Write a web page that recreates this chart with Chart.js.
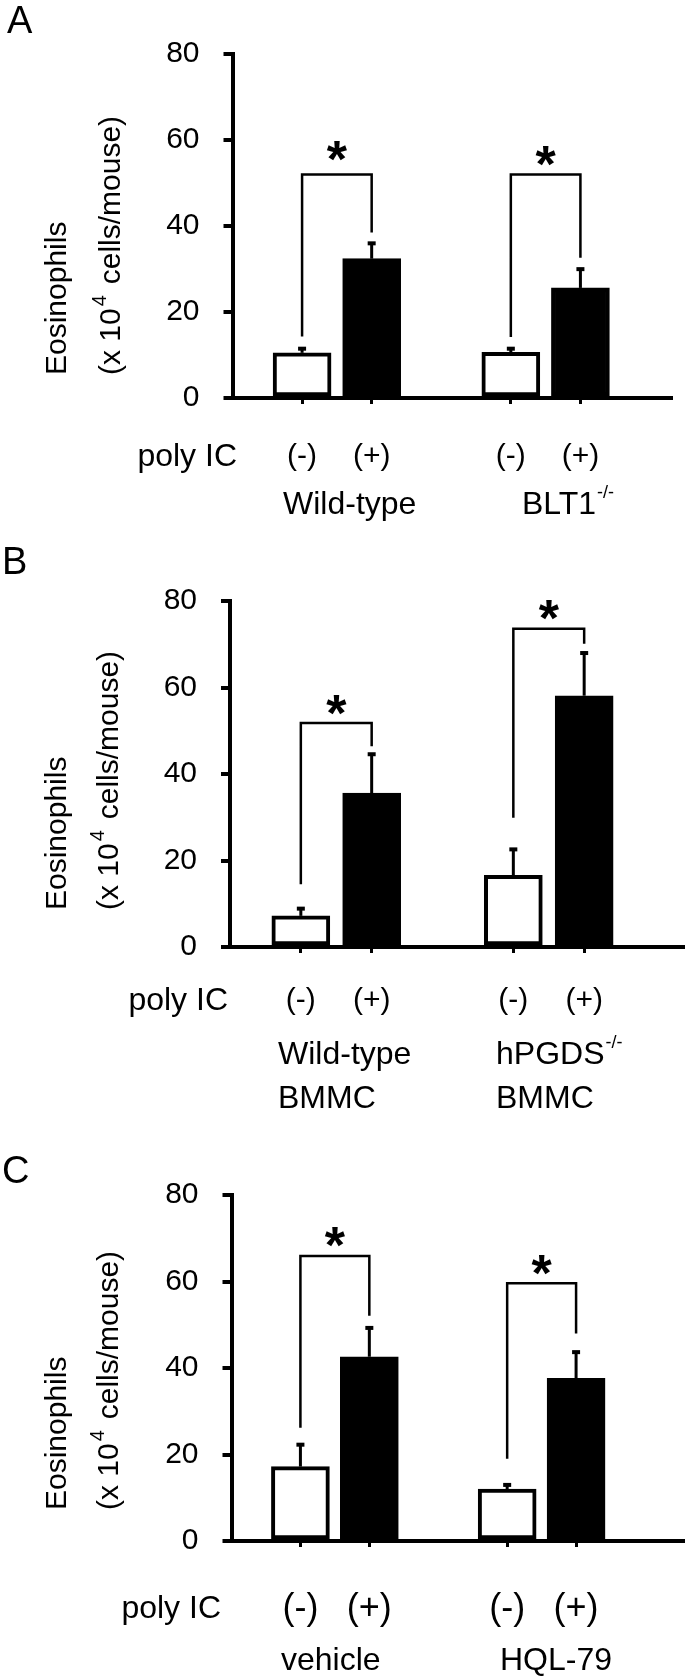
<!DOCTYPE html>
<html>
<head>
<meta charset="utf-8">
<script src="https://cdn.jsdelivr.net/npm/chart.js@4.4.1/dist/chart.umd.min.js"></script>
<style>
html, body { margin: 0; padding: 0; background: #fff; }
#wrap { position: relative; width: 685px; height: 1679px; }
canvas { position: absolute; left: 0; }
</style>
</head>
<body>
<div id="wrap">
  <canvas id="chartA" width="685" height="540" style="top:0px"></canvas>
  <canvas id="chartB" width="685" height="580" style="top:540px"></canvas>
  <canvas id="chartC" width="685" height="559" style="top:1120px"></canvas>
</div>
<script>
const FONT = "'Liberation Sans', Arial, Helvetica, sans-serif";

// slots: blank slot on each end and one between the two groups
const categories = ['', '(-)', '(+)', '', '(-)', '(+)', ''];
const barColors = ['#fff', '#fff', '#000', '#fff', '#fff', '#000', '#fff'];

// A
const groupsA = ['Wild-type', 'BLT1'];
const groupSupA = ['', '-/-'];
const meansA = [null, 10.5, 32.4, null, 10.6, 25.6, null];
const semA = [null, 1.2, 3.8, null, 1.1, 4.6, null];
// [left bar, right bar, bracket height, left leg end, right leg end, asterisk]
const sigA = [[1, 2, 52.0, 14.3, 38.5, 58.4], [4, 5, 52.0, 14.2, 32.6, 57.1]];

// B
const groupsB = ['Wild-type', 'hPGDS'];
const groupSupB = ['', '-/-'];
const groupSubB = ['BMMC', 'BMMC'];
const meansB = [null, 7.2, 35.6, null, 16.6, 58.1, null];
const semB = [null, 1.9, 9.2, null, 6.2, 10.1, null];
const sigB = [[1, 2, 51.8, 14.5, 46.4, 56.8], [4, 5, 73.6, 29.9, 70.1, 78.8]];

// C
const groupsC = ['vehicle', 'HQL-79'];
const groupSupC = ['', ''];
const meansC = [null, 17.2, 42.6, null, 12.0, 37.6, null];
const semC = [null, 5.3, 6.9, null, 1.2, 6.3, null];
const sigC = [[1, 2, 65.9, 26.2, 52.1, 71.1], [4, 5, 59.6, 19.0, 48.0, 64.6]];

const drawTextSup = (ctx, text, sup, x, y, size, supSize, raise) => {
    ctx.font = size + 'px ' + FONT;
    ctx.fillText(text, x, y);
    if (sup) {
        const w = ctx.measureText(text).width;
        ctx.font = supSize + 'px ' + FONT;
        ctx.fillText(sup, x + w + 1, y - raise);
    }
};

const makeChart = (id, means, sem, sig, groups, groupSup, groupSub, lay) => {
    const marks = {
        id: 'marks' + id,
        afterDatasetsDraw(chart) {
            const { ctx, chartArea } = chart;
            const x = chart.scales.x, y = chart.scales.y;
            ctx.save();
            ctx.strokeStyle = '#000';
            ctx.fillStyle = '#000';

            // x axis runs on past the last bar
            const y0 = y.getPixelForValue(0);
            ctx.lineWidth = 4;
            ctx.beginPath();
            ctx.moveTo(chartArea.right - 2, y0);
            ctx.lineTo(lay.axisEnd, y0);
            ctx.stroke();

            // error bars, upper side only
            means.forEach((m, i) => {
                if (m === null) return;
                const cx = x.getPixelForValue(i);
                const top = y.getPixelForValue(m + sem[i]);
                ctx.lineWidth = 3;
                ctx.beginPath();
                ctx.moveTo(cx, y.getPixelForValue(m));
                ctx.lineTo(cx, top);
                ctx.stroke();
                ctx.fillRect(cx - 4, top - 1, 8, 4);
            });

            // significance brackets
            sig.forEach(([a, b, h, la, lb, star]) => {
                const xa = x.getPixelForValue(a), xb = x.getPixelForValue(b);
                ctx.lineWidth = 2.5;
                ctx.beginPath();
                ctx.moveTo(xa, y.getPixelForValue(la));
                ctx.lineTo(xa, y.getPixelForValue(h));
                ctx.lineTo(xb, y.getPixelForValue(h));
                ctx.lineTo(xb, y.getPixelForValue(lb));
                ctx.stroke();
                ctx.font = 'bold 52px ' + FONT;
                ctx.textAlign = 'center';
                ctx.textBaseline = 'alphabetic';
                ctx.fillText('*', (xa + xb) / 2, y.getPixelForValue(star) + 0.57 * 52);
            });
            ctx.restore();
        },
        afterDraw(chart) {
            const ctx = chart.ctx;
            ctx.save();
            ctx.fillStyle = '#000';
            ctx.textBaseline = 'middle';
            ctx.textAlign = 'left';

            // panel letter
            ctx.font = '38px ' + FONT;
            ctx.fillText(lay.letter, lay.letterX, lay.letterY);

            // y title, two rotated lines
            ctx.save();
            ctx.translate(lay.title1X, lay.titleBottom);
            ctx.rotate(-Math.PI / 2);
            ctx.font = '30px ' + FONT;
            ctx.fillText('Eosinophils', 0, 0);
            ctx.restore();

            ctx.save();
            ctx.translate(lay.title2X, lay.titleBottom);
            ctx.rotate(-Math.PI / 2);
            ctx.font = '30px ' + FONT;
            let w = ctx.measureText('(x 10').width;
            ctx.fillText('(x 10', 0, 0);
            ctx.font = '20px ' + FONT;
            ctx.fillText('4', w + 2, -12);
            ctx.font = '30px ' + FONT;
            ctx.fillText('cells/mouse)', w + 24, 0);
            ctx.restore();

            // row label
            ctx.font = '32px ' + FONT;
            ctx.textAlign = 'right';
            ctx.fillText('poly IC', lay.polyRight, lay.labelY);

            // group names
            ctx.textAlign = 'left';
            groups.forEach((g, i) => {
                drawTextSup(ctx, g, groupSup[i], lay.groupX[i], lay.groupY, 32, 18, 12);
                if (groupSub) {
                    ctx.font = '32px ' + FONT;
                    ctx.fillText(groupSub[i], lay.groupX[i], lay.groupY2);
                }
            });
            ctx.restore();
        }
    };

    return new Chart(document.getElementById(id), {
        type: 'bar',
        data: {
            labels: categories,
            datasets: [{
                data: means,
                backgroundColor: barColors,
                borderColor: '#000',
                borderWidth: 4,
                borderSkipped: false,
                barThickness: 58
            }]
        },
        options: {
            responsive: false,
            animation: false,
            layout: { padding: { top: lay.top, right: lay.right, left: 0, bottom: 0 } },
            plugins: {
                legend: { display: false },
                tooltip: { enabled: false }
            },
            scales: {
                x: {
                    type: 'category',
                    offset: false,
                    grid: {
                        offset: false,
                        drawOnChartArea: false,
                        tickLength: 6,
                        lineWidth: 3,
                        color: (c) => categories[c.index] ? '#000' : 'rgba(0,0,0,0)'
                    },
                    border: { color: '#000', width: 4 },
                    ticks: {
                        color: '#000',
                        font: { family: FONT, size: lay.xFont },
                        padding: lay.xPad,
                        maxRotation: 0,
                        autoSkip: false
                    },
                    afterFit: (s) => { s.height = lay.xHeight; }
                },
                y: {
                    min: 0,
                    max: 80,
                    ticks: {
                        stepSize: 20,
                        color: '#000',
                        font: { family: FONT, size: 30 },
                        padding: 24
                    },
                    grid: { drawOnChartArea: false, tickLength: 9, lineWidth: 4, color: '#000' },
                    border: { color: '#000', width: 4 },
                    afterFit: (s) => { s.width = lay.left; }
                }
            }
        },
        plugins: [marks]
    });
};

makeChart('chartA', meansA, semA, sigA, groupsA, groupSupA, null, {
    top: 54, xHeight: 142, left: 232.5, right: 12, axisEnd: 673,
    xFont: 30, xPad: 35, labelY: 457, polyRight: 237,
    groupX: [283, 522], groupY: 505,
    letter: 'A', letterX: 7, letterY: 23,
    titleBottom: 375, title1X: 58, title2X: 112
});

makeChart('chartB', meansB, semB, sigB, groupsB, groupSupB, groupSubB, {
    top: 61, xHeight: 173, left: 230, right: 21, axisEnd: 685,
    xFont: 30, xPad: 30, labelY: 461, polyRight: 228,
    groupX: [278, 496], groupY: 515, groupY2: 559,
    letter: 'B', letterX: 2, letterY: 24,
    titleBottom: 370, title1X: 58, title2X: 110
});

makeChart('chartC', meansC, semC, sigC, groupsC, groupSupC, null, {
    top: 75, xHeight: 138, left: 231.5, right: 20, axisEnd: 685,
    xFont: 36, xPad: 40, labelY: 489, polyRight: 221,
    groupX: [281, 500], groupY: 541,
    letter: 'C', letterX: 2, letterY: 53,
    titleBottom: 390, title1X: 58, title2X: 110
});
</script>
</body>
</html>
